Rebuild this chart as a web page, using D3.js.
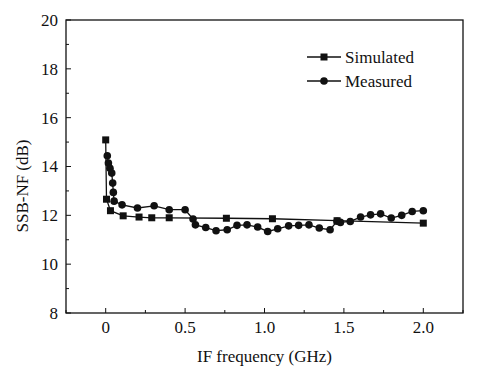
<!DOCTYPE html>
<html>
<head>
<meta charset="utf-8">
<script src="https://cdn.jsdelivr.net/npm/d3@7"></script>
<style>
  body { margin: 0; background: #fff; }
  svg text { font-family: "Liberation Serif", "Times New Roman", serif; fill: #111; }
</style>
</head>
<body>
<div id="chart"></div>
<script>
// Simulated SSB-NF (squares)
const simFreq = [0, 0.005, 0.03, 0.11, 0.21, 0.29, 0.40, 0.76, 1.05, 1.457, 2.0];
const simNF   = [15.09, 12.66, 12.19, 11.98, 11.93, 11.9, 11.9, 11.88, 11.86, 11.78, 11.68];

// Measured SSB-NF (circles)
const measFreq = [0.01, 0.017, 0.027, 0.038, 0.044, 0.048, 0.053, 0.103, 0.2, 0.305, 0.40, 0.50,
  0.55, 0.565, 0.63, 0.695, 0.765, 0.827, 0.89, 0.957, 1.02, 1.083, 1.152, 1.215, 1.28, 1.345,
  1.413, 1.457, 1.478, 1.54, 1.605, 1.668, 1.731, 1.798, 1.864, 1.93, 2.0];
const measNF = [14.44, 14.14, 13.93, 13.73, 13.32, 12.94, 12.58, 12.43, 12.3, 12.39, 12.23, 12.23,
  11.85, 11.61, 11.5, 11.37, 11.41, 11.59, 11.61, 11.52, 11.34, 11.45, 11.57, 11.59, 11.61, 11.48,
  11.41, 11.76, 11.71, 11.75, 11.93, 12.02, 12.06, 11.89, 12.0, 12.16, 12.19];

const xTicks = [0, 0.5, 1.0, 1.5, 2.0];
const yTicks = [8, 10, 12, 14, 16, 18, 20];
const seriesNames = ["Simulated", "Measured"];

const W = 493, H = 375;
const margin = { top: 20, right: 30, bottom: 62, left: 66 };
const width = W - margin.left - margin.right;
const height = H - margin.top - margin.bottom;
const fs = 17;

const svg = d3.select("#chart").append("svg")
  .attr("width", W).attr("height", H);

const g = svg.append("g").attr("transform", `translate(${margin.left},${margin.top})`);

const x = d3.scaleLinear().domain([-0.25, 2.25]).range([0, width]);
const y = d3.scaleLinear().domain([8, 20]).range([height, 0]);

// frame
g.append("rect").attr("width", width).attr("height", height)
  .attr("fill", "none").attr("stroke", "#111").attr("stroke-width", 1.3);

// x ticks (inward)
const xMinor = d3.range(-0.25, 2.26, 0.25);
g.selectAll(".xtick").data(xMinor).enter().append("line")
  .attr("x1", d => x(d)).attr("x2", d => x(d))
  .attr("y1", height).attr("y2", (d, i) => height - (i % 2 === 1 ? 5 : 3))
  .attr("stroke", "#111").attr("stroke-width", 1);
g.selectAll(".xlab").data(xTicks).enter().append("text")
  .attr("x", d => x(d)).attr("y", height + 20)
  .attr("text-anchor", "middle").attr("font-size", fs)
  .text(d => d === 0 ? "0" : d.toFixed(1));

// y ticks (inward)
const yMinor = d3.range(8, 20.1, 1);
g.selectAll(".ytick").data(yMinor).enter().append("line")
  .attr("x1", 0).attr("x2", d => (d % 2 === 0 ? 5 : 3))
  .attr("y1", d => y(d)).attr("y2", d => y(d))
  .attr("stroke", "#111").attr("stroke-width", 1);
g.selectAll(".ylab").data(yTicks).enter().append("text")
  .attr("x", -8).attr("y", d => y(d)).attr("dy", "0.35em")
  .attr("text-anchor", "end").attr("font-size", fs)
  .text(d => d);

// axis titles
svg.append("text")
  .attr("x", margin.left + x(1.0)).attr("y", 362)
  .attr("text-anchor", "middle").attr("font-size", fs)
  .text("IF frequency (GHz)");
svg.append("text")
  .attr("transform", `translate(28,186) rotate(-90)`)
  .attr("text-anchor", "middle").attr("font-size", fs)
  .text("SSB-NF (dB)");

const line = d3.line().x(d => x(d[0])).y(d => y(d[1]));
const simData = simFreq.map((f, i) => [f, simNF[i]]);
const measData = measFreq.map((f, i) => [f, measNF[i]]);

g.append("path").datum(simData).attr("d", line)
  .attr("fill", "none").attr("stroke", "#111").attr("stroke-width", 1.3);
g.append("path").datum(measData).attr("d", line)
  .attr("fill", "none").attr("stroke", "#111").attr("stroke-width", 1.3);

const sq = 7;
g.selectAll(".sim").data(simData).enter().append("rect")
  .attr("x", d => x(d[0]) - sq / 2).attr("y", d => y(d[1]) - sq / 2)
  .attr("width", sq).attr("height", sq).attr("fill", "#111");
g.selectAll(".meas").data(measData).enter().append("circle")
  .attr("cx", d => x(d[0])).attr("cy", d => y(d[1])).attr("r", 3.8)
  .attr("fill", "#111");

// legend
const leg = svg.append("g").attr("transform", "translate(307,57)");
seriesNames.forEach((name, i) => {
  const row = leg.append("g").attr("transform", `translate(0,${i * 24})`);
  row.append("line").attr("x1", 0).attr("x2", 34).attr("y1", 0).attr("y2", 0)
    .attr("stroke", "#111").attr("stroke-width", 1.3);
  if (i === 0) {
    row.append("rect").attr("x", 17 - sq / 2).attr("y", -sq / 2)
      .attr("width", sq).attr("height", sq).attr("fill", "#111");
  } else {
    row.append("circle").attr("cx", 17).attr("cy", 0).attr("r", 3.8).attr("fill", "#111");
  }
  row.append("text").attr("x", 38).attr("y", 0).attr("dy", "0.35em")
    .attr("font-size", fs).text(name);
});
</script>
</body>
</html>
